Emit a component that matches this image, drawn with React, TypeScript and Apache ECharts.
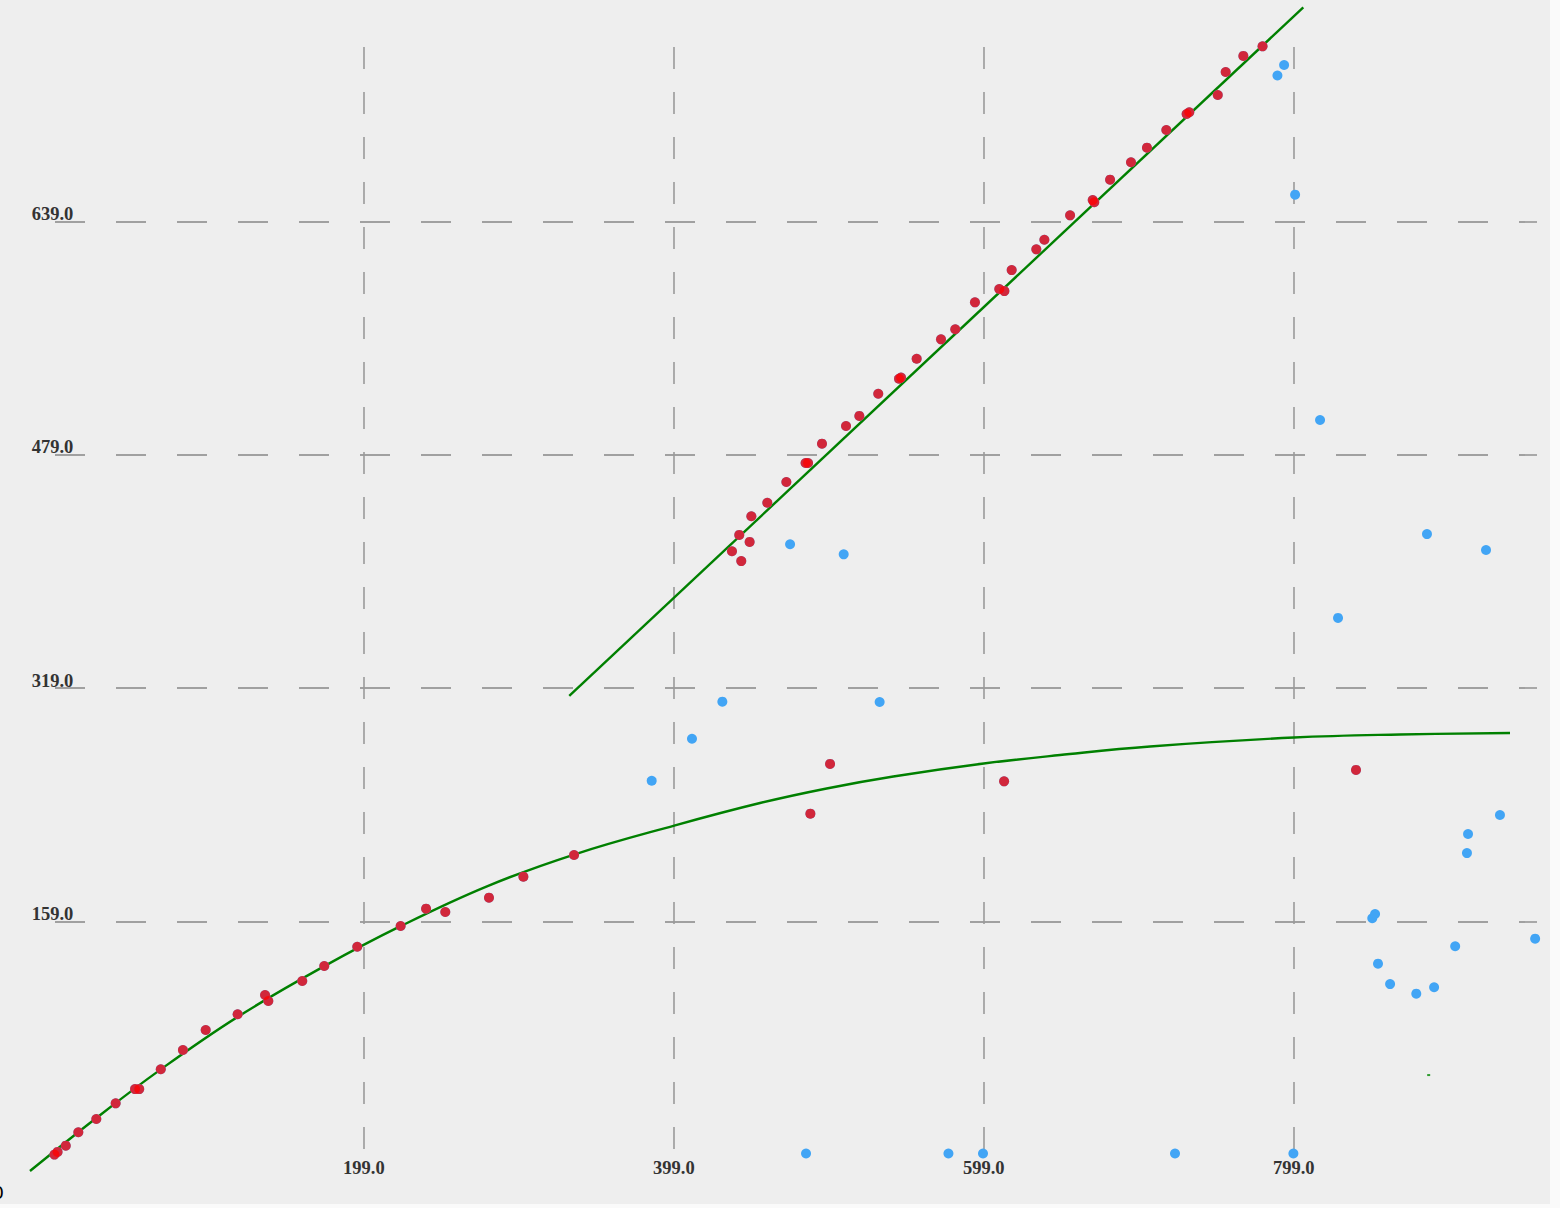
import React, { useEffect, useRef } from "react";
import * as echarts from "echarts";

// Axis setup (values)
const xMin = -1;
const xMax = 956;
const xInterval = 200;
const yMin = -1;
const yMax = 760;
const yInterval = 160;

// Points lying along the straight fit (inliers, drawn red)
const lineInliers: [number, number][] = [
  [436.5, 412.9], [442.5, 406.2], [441.2, 424.1], [447.9, 419.3], [449.0, 436.9],
  [459.3, 446.2], [471.6, 460.4], [484.0, 473.4], [485.6, 473.4], [494.6, 486.7],
  [510.1, 498.8], [518.7, 505.7], [530.9, 520.9], [544.3, 531.2], [545.6, 532.0],
  [555.7, 544.9], [571.4, 558.2], [580.6, 565.1], [593.3, 583.6], [609.0, 592.7],
  [612.3, 591.3], [617.0, 605.7], [632.9, 619.9], [638.1, 626.5], [654.7, 643.2],
  [669.3, 653.7], [670.3, 652.2], [680.5, 667.7], [694.0, 679.6], [704.3, 689.6],
  [716.8, 701.7], [729.9, 712.7], [731.6, 713.9], [750.0, 725.7], [755.1, 741.5],
  [766.5, 752.5], [778.9, 759.1],
];

// Points lying along the curved fit (inliers, drawn red)
const curveInliers: [number, number][] = [
  [-0.7, -0.7], [1.3, 1.1], [6.6, 5.4], [14.7, 14.6], [26.3, 23.7], [38.8, 34.4],
  [51.3, 44.2], [54.0, 44.2], [67.9, 57.8], [82.2, 71.0], [96.9, 84.7],
  [117.5, 95.5], [135.2, 108.7], [137.3, 104.6], [159.2, 118.3], [173.4, 128.6],
  [194.7, 141.8], [222.7, 156.0], [239.1, 167.9], [251.5, 165.6], [279.7, 175.4],
  [301.9, 189.8], [334.6, 204.7], [487.1, 233.0], [499.8, 267.1], [612.1, 255.2],
  [839.2, 263.0],
];

// Remaining points (outliers, blue only)
const outliers: [number, number][] = [
  [788.5, 739.1], [792.8, 746.3], [799.9, 657.4], [816.0, 502.9], [827.6, 367.2],
  [885.0, 424.7], [923.1, 413.8], [474.0, 417.7], [508.6, 410.8], [531.8, 309.6],
  [430.3, 309.8], [410.7, 284.4], [384.7, 255.6], [932.1, 232.1], [911.5, 219.1],
  [910.8, 206.0], [849.7, 161.3], [851.5, 164.2], [903.2, 142.1], [954.8, 147.3],
  [853.4, 130.2], [861.2, 116.2], [878.1, 109.6], [889.6, 114.0],
  [484.3, 0], [576.2, 0], [598.5, 0], [722.4, 0], [798.8, 0],
];

// Fitted straight line
const lineFit: [number, number][] = [
  [331.5, 313.7], [805.2, 785.8],
];

// Fitted curve
const curveFit: [number, number][] = [
  [-16.5, -12.0], [26.1, 24.2], [67.9, 57.7], [117.5, 93.7], [173.2, 128.3],
  [222.3, 155.7], [278.4, 183.2], [334.6, 205.0], [399.8, 225.0], [454.6, 240.3],
  [497.6, 250.3], [540.6, 258.5], [599.0, 267.4], [648.2, 273.2], [706.3, 279.1],
  [799.2, 285.2], [867.6, 287.3], [938.6, 288.3],
];

// Tiny stray green mark
const strayMark: [number, number][] = [[886.1, 53.8]];

const allPoints = [...lineInliers, ...curveInliers, ...outliers];

function fitSeries(points: [number, number][], smooth: number) {
  return {
    type: "custom",
    clip: false,
    silent: true,
    data: points,
    encode: { x: 0, y: 1 },
    renderItem: (params: any, api: any) => {
      if (params.dataIndex !== 0) return null;
      const pts = points.map((p) => api.coord(p));
      return {
        type: "polyline",
        shape: { points: pts, smooth },
        style: { stroke: "#008000", lineWidth: 2.4, fill: "none" },
      };
    },
  };
}

export default function App() {
  const ref = useRef<HTMLDivElement>(null);
  useEffect(() => {
    if (!ref.current) return;
    const chart = echarts.init(ref.current, undefined, { renderer: "svg" });
    const labelStyle = {
      fontFamily: "Liberation Serif",
      fontWeight: "bold" as const,
      fontSize: 18.5,
      color: "#333",
    };
    chart.setOption({
      animation: false,
      backgroundColor: "#eeeeee",
      grid: { left: 54, right: 23, top: 45, bottom: 53, containLabel: false },
      xAxis: {
        type: "value",
        min: xMin,
        max: xMax,
        interval: xInterval,
        axisLine: { show: false },
        axisTick: { show: false },
        axisLabel: {
          ...labelStyle,
          showMinLabel: false,
          showMaxLabel: false,
          margin: 4,
          lineHeight: 18,
          formatter: (v: number) => v.toFixed(1),
        },
        splitLine: {
          show: true,
          showMinLine: false,
          showMaxLine: false,
          lineStyle: { color: "#9a9a9a", width: 1.6, type: [22, 23], dashOffset: -2 },
        },
      },
      yAxis: {
        type: "value",
        min: yMin,
        max: yMax,
        interval: yInterval,
        axisLine: { show: false },
        axisTick: { show: false },
        axisLabel: {
          ...labelStyle,
          showMinLabel: false,
          showMaxLabel: false,
          margin: 1.5,
          align: "center",
          verticalAlign: "bottom",
          lineHeight: 15,
          formatter: (v: number) => v.toFixed(1),
        },
        splitLine: {
          show: true,
          showMinLine: false,
          showMaxLine: false,
          lineStyle: { color: "#a0a0a0", width: 1.8, type: [30, 31], dashOffset: -1 },
        },
      },
      graphic: [
        { type: "rect", left: 1550, top: 0, z: 100, shape: { width: 10, height: 1208 }, style: { fill: "#fafafa" } },
        { type: "rect", left: 0, top: 1204, z: 100, shape: { width: 1560, height: 4 }, style: { fill: "#fafafa" } },
        {
          type: "text",
          left: -7.5,
          top: 1183,
          z: 100,
          style: { text: "0", fontSize: 18, fontFamily: "DejaVu Sans", fill: "#000" },
        },
      ],
      series: [
        {
          type: "scatter",
          data: allPoints,
          symbolSize: 10,
          itemStyle: { color: "#42a5f5", opacity: 1 },
          clip: false,
        },
        {
          type: "scatter",
          data: [...lineInliers, ...curveInliers],
          symbolSize: 10,
          itemStyle: { color: "#ff0000", opacity: 0.76 },
          clip: false,
        },
        fitSeries(curveFit, 0.4),
        fitSeries(lineFit, 0),
        {
          type: "scatter",
          data: strayMark,
          symbol: "rect",
          symbolSize: [3, 2],
          itemStyle: { color: "#2e9b2e", opacity: 1 },
        },
      ],
    });
    return () => chart.dispose();
  }, []);
  return (
    <div
      ref={ref}
      style={{ position: "absolute", left: 0, top: 0, width: 1560, height: 1208 }}
    />
  );
}
